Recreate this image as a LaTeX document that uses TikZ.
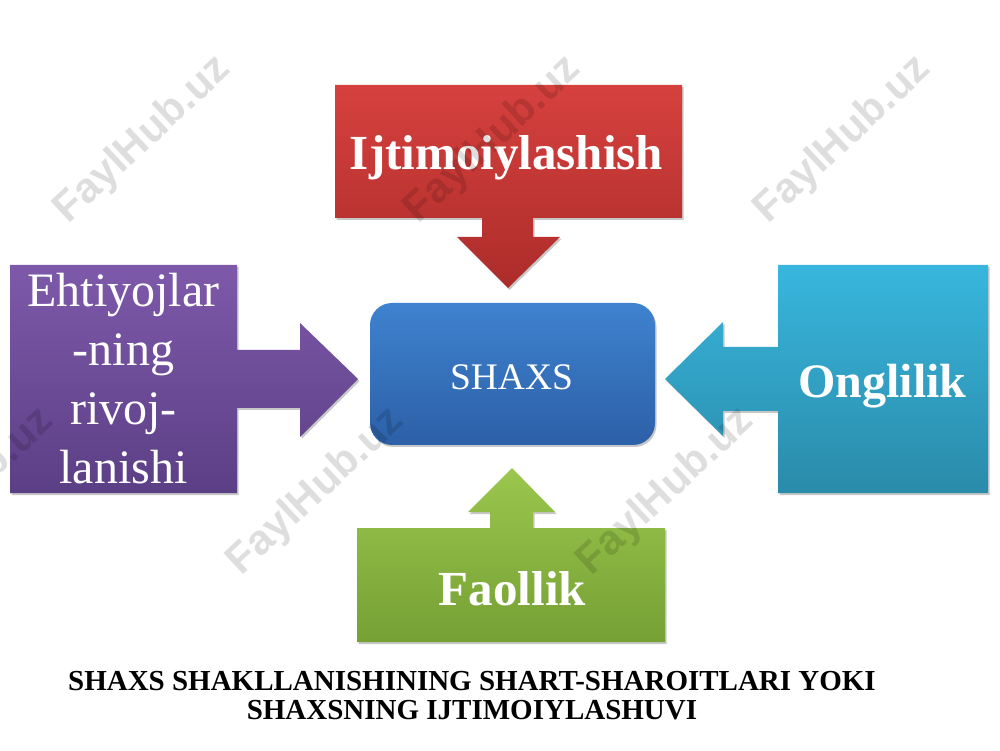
\documentclass[tikz,border=0pt]{standalone}
\usepackage{fontspec}
\setmainfont{Liberation Serif}
\newfontfamily\wmfont{Liberation Sans}
\usetikzlibrary{calc,shadows}
\pgfdeclarelayer{bg}
\pgfsetlayers{bg,main}
\definecolor{redTop}{HTML}{D6413E}
\definecolor{redBot}{HTML}{AC2C2A}
\definecolor{purTop}{HTML}{7E59AA}
\definecolor{purBot}{HTML}{5B3F85}
\definecolor{bluTop}{HTML}{3F82CF}
\definecolor{bluBot}{HTML}{2C60A7}
\definecolor{cyaTop}{HTML}{38B6DD}
\definecolor{cyaBot}{HTML}{2A8BAA}
\definecolor{grnTop}{HTML}{9BC74E}
\definecolor{grnBot}{HTML}{75A034}
\tikzset{
  frame/.style={rectangle, inner sep=0pt, outer sep=0pt},
  shp/.style={drop shadow={shadow xshift=1.5pt, shadow yshift=-2pt, opacity=0.22, fill=black}},
  boldlbl/.style={text=white, font=\bfseries\fontsize{49}{49}\selectfont, inner sep=0pt},
  wm/.style={rotate=43, text=black, text opacity=0.13, font=\wmfont\bfseries\fontsize{42}{42}\selectfont, inner sep=0pt},
}
\begin{document}
\begin{tikzpicture}[x=1pt,y=1pt]
\useasboundingbox (0,0) rectangle (1000,750);
% frames
\node[frame, minimum width=347, minimum height=133] (ij) at (508.5,598.5) {};
\node[frame, minimum width=227, minimum height=228] (pu) at (123.5,371) {};
\node[frame, minimum width=210, minimum height=228] (cy) at (883,371) {};
\node[frame, minimum width=308, minimum height=114] (gr) at (511,165) {};
\node[frame, minimum width=285, minimum height=142, rounded corners=22, top color=bluTop, bottom color=bluBot, shp] (sh) at (512.5,376) {};
\begin{pgfonlayer}{bg}
  % top red callout
  \path[shp, top color=redTop, bottom color=redBot]
    (ij.north west) -- (ij.north east) -- (ij.south east)
    -- ($(ij.south)+(24.5,0)$) -- ++(0,-19) -- ++(27,0)
    -- ($(ij.south)+(-0.5,-70)$)
    -- ($(ij.south)+(-51.5,-19)$) -- ++(25,0) -- ($(ij.south)+(-26.5,0)$)
    -- (ij.south west) -- cycle;
  % left purple callout
  \path[shp, top color=purTop, bottom color=purBot]
    (pu.north west) -- (pu.north east)
    -- ($(pu.east)+(0,29)$) -- ++(63,0) -- ++(0,27)
    -- ($(pu.east)+(121,0)$)
    -- ($(pu.east)+(63,-58)$) -- ++(0,29) -- ($(pu.east)+(0,-29)$)
    -- (pu.south east) -- (pu.south west) -- cycle;
  % right cyan callout
  \path[shp, top color=cyaTop, bottom color=cyaBot]
    (cy.north east) -- (cy.north west)
    -- ($(cy.west)+(0,32)$) -- ++(-55,0) -- ++(0,25)
    -- ($(cy.west)+(-113,0)$)
    -- ($(cy.west)+(-55,-57)$) -- ++(0,25) -- ($(cy.west)+(0,-32)$)
    -- (cy.south west) -- (cy.south east) -- cycle;
  % bottom green callout
  \path[shp, top color=grnTop, bottom color=grnBot]
    (gr.south west) -- (gr.south east) -- (gr.north east)
    -- ($(gr.north)+(22,0)$) -- ++(0,16) -- ++(22,0)
    -- ($(gr.north)+(1,60)$)
    -- ($(gr.north)+(-43,16)$) -- ++(22,0) -- ($(gr.north)+(-21,0)$)
    -- (gr.north west) -- cycle;
\end{pgfonlayer}
% labels
\node[boldlbl, anchor=base] (tij) at ($(ij.center)+(-2,-18.5)$) {Ijtimoiylashish};
\node[boldlbl, font=\bfseries\fontsize{48}{48}\selectfont, anchor=base] (tcy) at ($(cy.center)+(-0.5,-19)$) {Onglilik};
\node[boldlbl, anchor=base] (tgr) at ($(gr.center)+(1.5,-20)$) {Faollik};
\node[text=white, inner sep=0pt, font=\fontsize{37.5}{37.5}\selectfont, anchor=base] (tsh) at ($(sh.center)+(-1,-16)$) {SHAXS};
\node[text=white, inner sep=0pt, align=center, font=\fontsize{48}{59}\selectfont] (tpu) at (pu.center) {Ehtiyojlar\\-ning\\rivoj-\\lanishi};
% caption
\node[inner sep=0pt, align=center, font=\bfseries\fontsize{29}{29}\selectfont] (cap) at (472,54) {SHAXS SHAKLLANISHINING SHART-SHAROITLARI YOKI\\SHAXSNING IJTIMOIYLASHUVI};
% watermarks
\node[wm] (w1) at (143,610) {FaylHub.uz};
\node[wm] (w2) at (493,610) {FaylHub.uz};
\node[wm] (w3) at (843,610) {FaylHub.uz};
\node[wm] (w4) at (-34,258) {FaylHub.uz};
\node[wm] (w5) at (316,258) {FaylHub.uz};
\node[wm] (w6) at (666,258) {FaylHub.uz};
\end{tikzpicture}
\end{document}
